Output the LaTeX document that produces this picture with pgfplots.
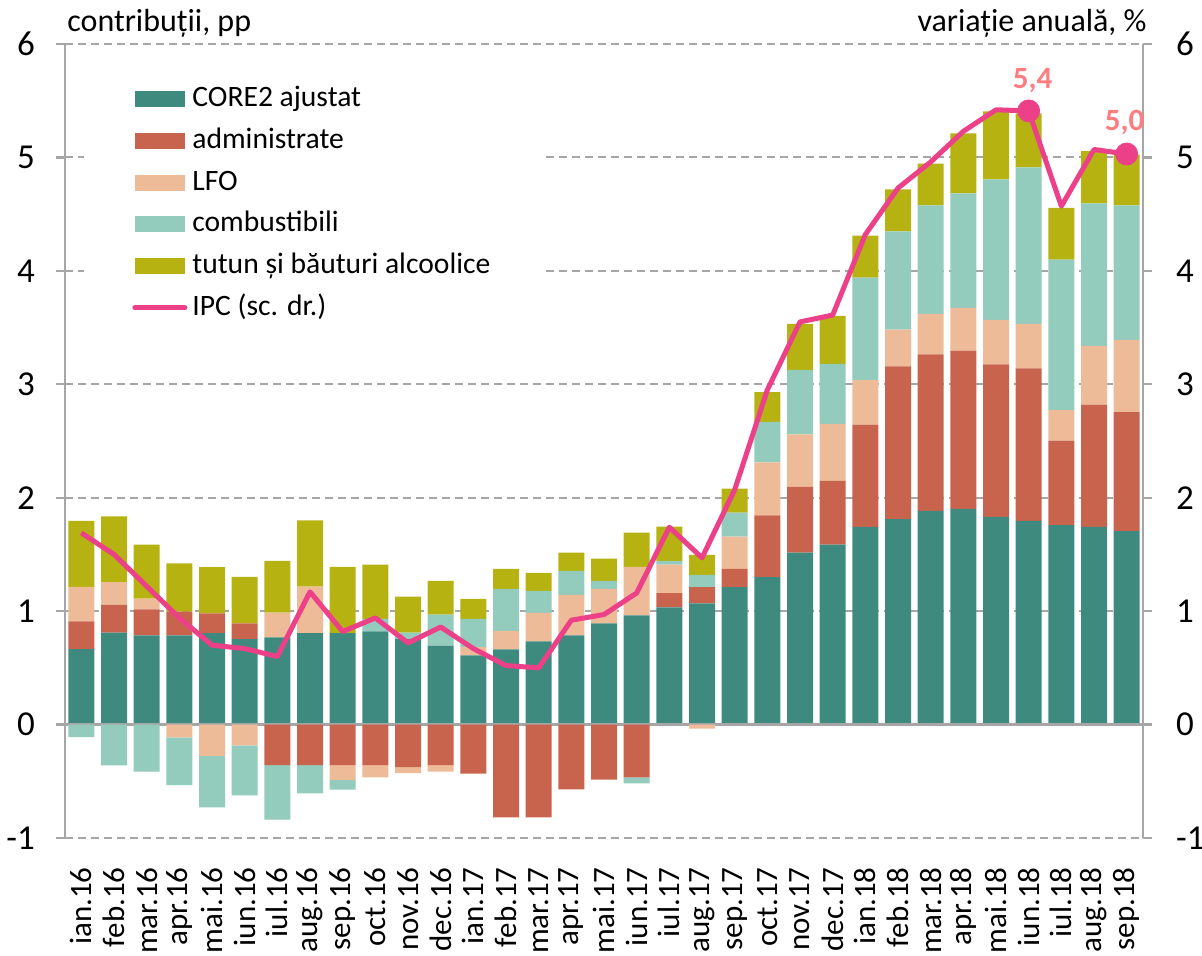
\documentclass[border=0pt]{standalone}
\usepackage{pgfplots}
\pgfplotsset{compat=1.18}
\usepackage{pgfplotstable}
\usepackage{fontspec}
\setmainfont{Carlito}
\definecolor{cCore}{HTML}{3F8A7F}
\definecolor{cAdm}{HTML}{C8644E}
\definecolor{cLfo}{HTML}{EEBB98}
\definecolor{cComb}{HTML}{93CBBC}
\definecolor{cTut}{HTML}{B5B211}
\definecolor{cIpc}{HTML}{EC4189}
\definecolor{cLab}{HTML}{FF7C80}
\definecolor{cGrid}{HTML}{A6A6A6}

\pgfplotstableread{
idx core adm lfo comb tut ipc
0 0.665 0.245 0.305 -0.110 0.580 1.69
1 0.810 0.245 0.200 -0.360 0.580 1.50
2 0.786 0.230 0.094 -0.414 0.476 1.22
3 0.786 0.210 -0.113 -0.420 0.425 0.94
4 0.807 0.174 -0.276 -0.454 0.407 0.70
5 0.754 0.138 -0.184 -0.440 0.411 0.67
6 0.768 -0.358 0.219 -0.481 0.457 0.60
7 0.807 -0.358 0.410 -0.248 0.583 1.17
8 0.807 -0.358 -0.130 -0.086 0.584 0.82
9 0.821 -0.358 -0.107 0.110 0.478 0.94
10 0.754 -0.376 -0.053 0.056 0.318 0.72
11 0.697 -0.358 -0.056 0.272 0.298 0.86
12 0.609 -0.432 0.074 0.248 0.177 0.67
13 0.662 -0.819 0.163 0.371 0.177 0.52
14 0.733 -0.819 0.251 0.195 0.159 0.50
15 0.786 -0.571 0.357 0.213 0.159 0.92
16 0.892 -0.485 0.304 0.071 0.195 0.97
17 0.963 -0.465 0.428 -0.053 0.301 1.16
18 1.034 0.124 0.251 0.035 0.301 1.74
19 1.069 0.142 -0.035 0.109 0.177 1.47
20 1.211 0.162 0.284 0.212 0.212 2.07
21 1.299 0.546 0.466 0.357 0.263 2.95
22 1.515 0.581 0.463 0.567 0.407 3.55
23 1.586 0.563 0.501 0.529 0.425 3.61
24 1.742 0.902 0.393 0.903 0.371 4.32
25 1.812 1.346 0.324 0.865 0.372 4.73
26 1.883 1.381 0.357 0.956 0.368 4.96
27 1.901 1.395 0.378 1.009 0.528 5.23
28 1.830 1.345 0.393 1.239 0.598 5.42
29 1.795 1.345 0.393 1.380 0.475 5.41
30 1.759 0.744 0.269 1.327 0.457 4.57
31 1.742 1.079 0.517 1.257 0.460 5.07
32 1.706 1.048 0.637 1.186 0.448 5.03
}\data

\pgfplotsset{
  base/.style={
    scale only axis, width=539pt, height=397pt,
    xmin=-0.5, xmax=32.5, ymin=-1, ymax=6,
  },
  barleg/.style={legend image code/.code={\fill[##1] (0pt,-4pt) rectangle (25pt,4pt);}},
  lineleg/.style={legend image code/.code={\draw[##1, line cap=round] (0pt,0pt) -- (25pt,0pt);}},
}
\begin{document}
\begin{tikzpicture}
\begin{axis}[base, ybar stacked, bar width=13pt,
  axis y line*=left, axis x line*=bottom,
  x axis line style={draw=none},
  xtick={0,...,32},
  xticklabels={ian.16,feb.16,mar.16,apr.16,mai.16,iun.16,iul.16,aug.16,sep.16,oct.16,nov.16,dec.16,ian.17,feb.17,mar.17,apr.17,mai.17,iun.17,iul.17,aug.17,sep.17,oct.17,nov.17,dec.17,ian.18,feb.18,mar.18,apr.18,mai.18,iun.18,iul.18,aug.18,sep.18},
  x tick style={draw=none},
  xticklabel style={yshift=-10pt, rotate=90, anchor=east, font=\fontsize{15.5}{18}\selectfont, inner sep=0pt},
  ytick={-1,0,...,6},
  y axis line style={cGrid, line width=1.2pt},
  y tick style={cGrid, line width=1.2pt},
  tick align=outside, major tick length=4.5pt,
  ymajorgrids, grid style={cGrid, line width=1pt, dash pattern=on 4pt off 2.5pt},
  yticklabel style={font=\fontsize{17.5}{20}\selectfont, xshift=-7pt},
  /pgf/number format/assume math mode=true,
  legend cell align=left,
  legend style={draw=none, fill=white, font=\fontsize{14.8}{17}\selectfont,
    at={(rel axis cs:0.0176,0.971)}, anchor=north west,
    inner xsep=24pt, inner ysep=6pt, row sep=1.4pt,
    nodes={inner sep=2.5pt, text height=11pt, text depth=3.5pt}},
]
\addplot[fill=cCore, draw=none, barleg] table[x=idx, y expr={max(\thisrow{core},0)}] {\data};
\addlegendentry{CORE2 ajustat}
\addplot[fill=cAdm, draw=none, barleg] table[x=idx, y expr={max(\thisrow{adm},0)}] {\data};
\addlegendentry{administrate}
\addplot[fill=cLfo, draw=none, barleg] table[x=idx, y expr={max(\thisrow{lfo},0)}] {\data};
\addlegendentry{LFO}
\addplot[fill=cComb, draw=none, barleg] table[x=idx, y expr={max(\thisrow{comb},0)}] {\data};
\addlegendentry{combustibili}
\addplot[fill=cTut, draw=none, barleg] table[x=idx, y expr={max(\thisrow{tut},0)}] {\data};
\addlegendentry{tutun și băuturi alcoolice}
\addlegendimage{cIpc, line width=2.5pt, lineleg}
\addlegendentry{IPC (sc. dr.)}
\coordinate (bl) at (rel axis cs:0,0);
\coordinate (tl) at (rel axis cs:0,1);
\coordinate (tr) at (rel axis cs:1,1);
\end{axis}

\begin{axis}[base, ybar stacked, bar width=13pt,
  axis x line=middle, axis y line=none,
  x axis line style={cGrid, line width=1.5pt, -},
  every inner x axis line/.append style={-},
  xtick=\empty,
  minor xtick={0.5,1.5,...,31.5},
  minor x tick style={cGrid, line width=1.2pt},
  tick align=outside, minor tick length=4pt,
]
\addplot[fill=cAdm, draw=none] table[x=idx, y expr={min(\thisrow{adm},0)}] {\data};
\addplot[fill=cLfo, draw=none] table[x=idx, y expr={min(\thisrow{lfo},0)}] {\data};
\addplot[fill=cComb, draw=none] table[x=idx, y expr={min(\thisrow{comb},0)}] {\data};
\end{axis}

\begin{axis}[base,
  axis x line=none, axis y line*=right,
  ytick={-1,0,...,6},
  y axis line style={cGrid, line width=1.2pt},
  y tick style={cGrid, line width=1.2pt},
  tick align=outside, major tick length=4.5pt,
  yticklabel style={font=\fontsize{17.5}{20}\selectfont, xshift=8.5pt},
  /pgf/number format/assume math mode=true,
]
\addplot[cIpc, line width=2.5pt, mark=none, line join=round] table[x=idx, y=ipc] {\data};
\addplot[cIpc, only marks, mark=*, mark size=5.5pt] coordinates {(29,5.41) (32,5.03)};
\node[text=cLab, font=\bfseries\fontsize{15.5}{18}\selectfont] at ([shift={(2pt,15pt)}]axis cs:29,5.41) {5,4};
\node[text=cLab, font=\bfseries\fontsize{15.5}{18}\selectfont] at ([shift={(-1pt,16pt)}]axis cs:32,5.03) {5,0};
\end{axis}
\node[anchor=base west, font=\fontsize{16}{19}\selectfont, inner sep=0pt] at ([shift={(1pt,6pt)}]tl) {contribuții, pp};
\node[anchor=base east, font=\fontsize{16}{19}\selectfont, inner sep=0pt] at ([shift={(2pt,6pt)}]tr) {variație anuală, \%};
\pgfresetboundingbox
\useasboundingbox ([shift={(-32.5pt,-59pt)}]bl) rectangle ([shift={(29.5pt,22pt)}]tr);
\end{tikzpicture}
\end{document}
